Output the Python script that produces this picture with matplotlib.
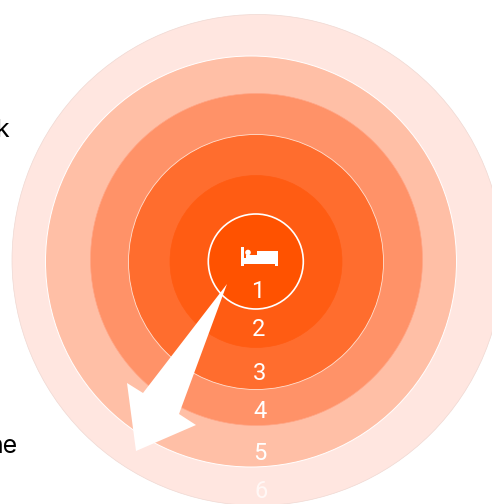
import matplotlib
matplotlib.use('Agg')
import matplotlib.pyplot as plt
from matplotlib.patches import Circle, Polygon, Rectangle

# zones from outer to inner
radii = [245.5, 205.5, 166, 127.5, 86, 47.5]
center_x = [257.5, 251, 256.5, 256, 256, 255.8]
center_y = [260, 261.5, 259.5, 262, 261.5, 261.5]
colors = ['#FFE6E0', '#FFBFA6', '#FF9268', '#FF6D2E', '#FF5C13', '#FF5200']
edges = ['#EFD8D2', 'white', '#FFA585', '#FFE0D0', '#FF5C13', 'white']
edge_w = [0.5, 0.7, 0.5, 0.6, 0.5, 1.2]

labels = ['1', '2', '3', '4', '5', '6']
label_x = [258, 259, 260, 260, 260, 261]
label_y = [291, 329, 373, 412, 453, 492]
label_alpha = [1, 1, 1, 1, 1, 0.7]

arrow = [(227, 284), (143, 393), (127, 383), (136, 451), (196, 425), (179, 414)]

fig = plt.figure(figsize=(4.92, 5.04), dpi=100)
ax = fig.add_axes([0, 0, 1, 1])
ax.set_xlim(0, 492)
ax.set_ylim(504, 0)
ax.axis('off')

for r, cx, cy, c, e, w in zip(radii, center_x, center_y, colors, edges, edge_w):
    ax.add_patch(Circle((cx, cy), r, facecolor=c, edgecolor=e, linewidth=w))

for s, x, y, a in zip(labels, label_x, label_y, label_alpha):
    ax.text(x, y, s, color='white', alpha=a, fontsize=17, family='Roboto',
            ha='center', va='center')

ax.add_patch(Polygon(arrow, closed=True, facecolor='white', edgecolor='none'))

# bed icon
ax.add_patch(Rectangle((241, 247), 3, 19, facecolor='white', edgecolor='none'))
ax.add_patch(Rectangle((241, 258), 36, 6, facecolor='white', edgecolor='none'))
ax.add_patch(Rectangle((257, 251), 20.5, 13, facecolor='white', edgecolor='none'))
ax.add_patch(Rectangle((275, 262), 2.5, 4, facecolor='white', edgecolor='none'))
ax.add_patch(Rectangle((246, 255), 11, 4, facecolor='white', edgecolor='none'))
ax.add_patch(Circle((248, 252.5), 2.8, facecolor='white', edgecolor='none'))

# text cut off by the left edge
ax.text(9, 137, 'k', fontsize=18, family='Inter', color='black', ha='right', va='baseline')
ax.text(17, 453, 'ne', fontsize=18, family='Inter', color='black', ha='right', va='baseline')

fig.savefig('out.png', dpi=100)
